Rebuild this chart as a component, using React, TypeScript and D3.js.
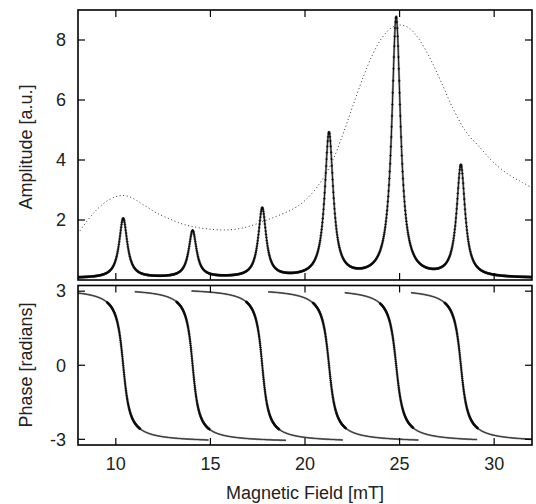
import React from 'react';
import * as d3 from 'd3';

// ---- data ----
const fieldTicks = [10, 15, 20, 25, 30];
const ampTicks = [2, 4, 6, 8];
const phaseTicks = [-3, 0, 3];

// resonance parameters (field of peak [mT], peak amplitude [a.u.], half-width [mT])
const peakCenters = [10.39, 14.06, 17.74, 21.27, 24.82, 28.24];
const peakHeights = [1.98, 1.56, 2.3, 4.8, 8.66, 3.72];
const peakWidths = [0.26, 0.25, 0.25, 0.27, 0.28, 0.27];
const ampBaseline = 0.06;

// extent of each phase fit curve [mT]
const phaseStart = [8.0, 11.0, 14.0, 18.05, 22.1, 25.6];
const phaseEnd = [14.9, 19.0, 22.0, 26.0, 29.1, 32.0];

// dotted envelope curve
const envField = [8.0, 8.5, 9.0, 9.5, 10.0, 10.3, 10.7, 11.1, 11.6, 12.2, 12.9, 13.6, 14.4, 15.2, 15.9, 16.6, 17.3, 17.9, 18.6, 19.4, 20.0, 20.7, 21.4, 22.0, 22.5, 23.1, 23.6, 24.1, 24.6, 25.05, 25.5, 26.0, 26.6, 27.2, 27.8, 28.5, 29.2, 30.0, 30.8, 31.5, 32.0];
const envAmp = [1.55, 1.98, 2.35, 2.62, 2.78, 2.82, 2.78, 2.65, 2.45, 2.22, 2.02, 1.85, 1.74, 1.68, 1.67, 1.72, 1.84, 1.98, 2.15, 2.38, 2.65, 3.15, 3.9, 4.85, 5.75, 6.8, 7.55, 8.1, 8.42, 8.5, 8.4, 8.05, 7.4, 6.6, 5.75, 4.95, 4.45, 3.9, 3.5, 3.25, 3.07];

const FONT = '"Liberation Sans", Arial, Helvetica, sans-serif';

export default function App() {
  const x = d3.scaleLinear().domain([8, 32]).range([78, 532]);
  const yA = d3.scaleLinear().domain([0, 9]).range([280, 10]);
  const yP = d3.scaleLinear().domain([-3.23, 3.23]).range([445, 285.5]);

  const amp = (f: number) =>
    ampBaseline +
    peakCenters.reduce((s, c, i) => s + peakHeights[i] / (1 + ((f - c) / peakWidths[i]) ** 2), 0);
  const phase = (f: number, i: number) => -2 * Math.atan((f - peakCenters[i]) / peakWidths[i]);

  // fit line (amplitude)
  const fitFields = d3.range(8, 32.0001, 0.004);
  const ampLine = d3
    .line<number>()
    .x((f) => x(f))
    .y((f) => yA(amp(f)))(fitFields) as string;

  // measured amplitude points
  const measFields = d3.range(8, 32.0001, 0.02);
  const plus = (px: number, py: number, s = 1.3) =>
    `M${(px - s).toFixed(2)},${py.toFixed(2)}h${2 * s}M${px.toFixed(2)},${(py - s).toFixed(2)}v${2 * s}`;
  const ampPts = measFields.map((f) => plus(x(f), yA(amp(f)))).join('');

  // phase fits and points
  const phLines = peakCenters.map((c, i) => {
    const fs = d3.range(phaseStart[i], phaseEnd[i] + 0.0001, 0.004);
    return d3
      .line<number>()
      .x((f) => x(f))
      .y((f) => yP(phase(f, i)))(fs) as string;
  });
  const phPts = peakCenters
    .map((c, i) =>
      d3
        .range(c - 0.85, c + 0.9, 0.012)
        .map((f) => plus(x(f), yP(phase(f, i))))
        .join('')
    )
    .join('');

  const envLine = d3
    .line<number>()
    .x((_, k) => x(envField[k]))
    .y((v) => yA(v))
    .curve(d3.curveCatmullRom)(envAmp) as string;

  const tick = 7;
  const frame = (top: number, bottom: number, key: string) => (
    <rect key={key} x={78} y={top} width={454} height={bottom - top} fill="none" stroke="#000" strokeWidth={1.6} />
  );

  return (
    <svg
      width={536}
      height={504}
      style={{ position: 'absolute', left: 0, top: 0, background: '#fff' }}
      fontFamily={FONT}
    >
      <defs>
        <clipPath id="clipA">
          <rect x={78} y={10} width={454} height={270} />
        </clipPath>
        <clipPath id="clipP">
          <rect x={78} y={285.5} width={454} height={159.5} />
        </clipPath>
      </defs>

      {/* amplitude panel */}
      <g clipPath="url(#clipA)">
        <path d={envLine} fill="none" stroke="#333" strokeWidth={1} strokeDasharray="1,2.6" />
        <path d={ampLine} fill="none" stroke="#999" strokeWidth={2.2} />
        <path d={ampPts} fill="none" stroke="#1a1a1a" strokeWidth={0.8} />
        <path d={ampLine} fill="none" stroke="#000" strokeWidth={0.9} />
      </g>

      {/* phase panel */}
      <g clipPath="url(#clipP)">
        {phLines.map((d, i) => (
          <path key={'pg' + i} d={d} fill="none" stroke="#999" strokeWidth={2} />
        ))}
        <path d={phPts} fill="none" stroke="#1a1a1a" strokeWidth={0.8} />
        {phLines.map((d, i) => (
          <path key={'pl' + i} d={d} fill="none" stroke="#000" strokeWidth={0.9} />
        ))}
      </g>

      {/* frames */}
      {frame(10, 280, 'fa')}
      {frame(285.5, 445, 'fp')}

      {/* x ticks on both panels, top and bottom */}
      {fieldTicks.map((t) => (
        <g key={'xt' + t} stroke="#000" strokeWidth={1.2}>
          <line x1={x(t)} x2={x(t)} y1={10} y2={10 + tick} />
          <line x1={x(t)} x2={x(t)} y1={280} y2={280 - tick} />
          <line x1={x(t)} x2={x(t)} y1={285.5} y2={285.5 + tick} />
          <line x1={x(t)} x2={x(t)} y1={445} y2={445 - tick} />
        </g>
      ))}
      {fieldTicks.map((t) => (
        <text key={'xl' + t} x={x(t)} y={470} fontSize={18} textAnchor="middle" fill="#222">
          {t}
        </text>
      ))}

      {/* amplitude y ticks */}
      {ampTicks.map((t) => (
        <g key={'ya' + t}>
          <line x1={78} x2={78 + tick} y1={yA(t)} y2={yA(t)} stroke="#000" strokeWidth={1.2} />
          <line x1={532} x2={532 - tick} y1={yA(t)} y2={yA(t)} stroke="#000" strokeWidth={1.2} />
          <text x={66} y={yA(t)} dy="0.35em" fontSize={18} textAnchor="end" fill="#222">
            {t}
          </text>
        </g>
      ))}

      {/* phase y ticks */}
      {phaseTicks.map((t) => (
        <g key={'yp' + t}>
          <line x1={78} x2={78 + tick} y1={yP(t)} y2={yP(t)} stroke="#000" strokeWidth={1.2} />
          <line x1={532} x2={532 - tick} y1={yP(t)} y2={yP(t)} stroke="#000" strokeWidth={1.2} />
          <text x={66} y={yP(t)} dy="0.35em" fontSize={18} textAnchor="end" fill="#222">
            {t}
          </text>
        </g>
      ))}

      {/* axis titles */}
      <text x={305} y={499} fontSize={18} textAnchor="middle" fill="#222">
        Magnetic Field [mT]
      </text>
      <text transform="translate(32,147) rotate(-90)" fontSize={18} textAnchor="middle" fill="#222">
        Amplitude [a.u.]
      </text>
      <text transform="translate(32,365) rotate(-90)" fontSize={18} textAnchor="middle" fill="#222">
        Phase [radians]
      </text>
    </svg>
  );
}
